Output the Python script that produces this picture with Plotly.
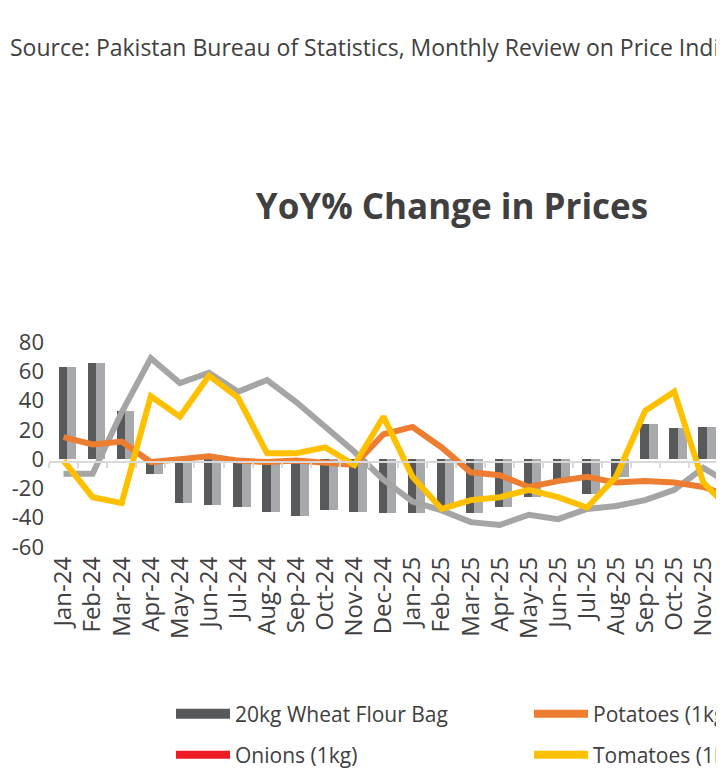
import plotly.graph_objects as go

months = ["Jan-24", "Feb-24", "Mar-24", "Apr-24", "May-24", "Jun-24", "Jul-24", "Aug-24",
          "Sep-24", "Oct-24", "Nov-24", "Dec-24", "Jan-25", "Feb-25", "Mar-25", "Apr-25",
          "May-25", "Jun-25", "Jul-25", "Aug-25", "Sep-25", "Oct-25", "Nov-25", "Dec-25"]

wheat_flour = [63, 66, 33, -10, -30, -31, -33, -36, -39, -35, -36, -37,
               -37, -33, -37, -33, -26, -15, -24, -12, 24, 21, 22, 12]

onions = [-10, -10, 32, 69, 52, 59, 46, 54, 39, 22, 5, -14,
          -29, -35, -43, -45, -38, -41, -34, -32, -28, -21, -6, -18]

potatoes = [15, 10, 12, -2, 0, 2, -1, -2, -1, -3, -4, 17,
            22, 8, -9, -11, -19, -15, -12, -16, -15, -16, -19, -26]

tomatoes = [-1, -26, -30, 43, 29, 57, 42, 4, 4, 8, -4, 29,
            -12, -34, -28, -26, -21, -26, -33, -12, 33, 46, -16, -36]

y_ticks = [80, 60, 40, 20, 0, -20, -40, -60]
y_tick_labels = ["80", "60", "40", "20", "0", "-20", "-40", "-60"]

TEXT = "#404040"
FONT = "Open Sans"

fig = go.Figure()

# 3D-look columns: dark front face + light side face
fig.add_trace(go.Bar(x=months, y=wheat_flour, width=0.31, offset=0.12,
                     marker=dict(color="#a7a9ac", line=dict(width=0)),
                     showlegend=False, hoverinfo="skip"))
fig.add_trace(go.Bar(x=months, y=wheat_flour, width=0.29, offset=-0.17,
                     marker=dict(color="#58595b", line=dict(width=0)),
                     name="20kg Wheat Flour Bag", showlegend=False))

fig.add_trace(go.Scatter(x=months, y=onions, mode="lines", name="Onions (1kg)",
                         line=dict(color="#a5a5a5", width=6), showlegend=False))
fig.add_trace(go.Scatter(x=months, y=potatoes, mode="lines", name="Potatoes (1kg)",
                         line=dict(color="#ed7d31", width=6), showlegend=False))
fig.add_trace(go.Scatter(x=months, y=tomatoes, mode="lines", name="Tomatoes (1kg)",
                         line=dict(color="#ffc000", width=6), showlegend=False))

# legend entries
fig.add_trace(go.Scatter(x=[None], y=[None], mode="lines", name="20kg Wheat Flour Bag",
                         line=dict(color="#58595b", width=13), legend="legend"))
fig.add_trace(go.Scatter(x=[None], y=[None], mode="lines", name="Potatoes (1kg)",
                         line=dict(color="#ed7d31", width=8), legend="legend2"))
fig.add_trace(go.Scatter(x=[None], y=[None], mode="lines", name="Onions (1kg)",
                         line=dict(color="#ed1c24", width=8), legend="legend3"))
fig.add_trace(go.Scatter(x=[None], y=[None], mode="lines", name="Tomatoes (1kg)",
                         line=dict(color="#ffc000", width=8), legend="legend4"))

W, H = 905, 775
ml, mt = 41, 334
plot_w, plot_h = 698, 205
mr = W - ml - plot_w
mb = H - mt - plot_h

IW = 54
col1_text, col2_text = 227, 585
row1, row2 = 706, 747


def leg(xtext, yrow):
    return dict(orientation="h", xref="container", yref="container",
                x=(xtext - IW - 10) / W, y=1 - yrow / H,
                xanchor="left", yanchor="middle", itemwidth=IW,
                font=dict(family=FONT, size=21, color=TEXT), bgcolor="rgba(0,0,0,0)")


fig.update_layout(
    width=W, height=H,
    margin=dict(l=ml, r=mr, t=mt, b=mb, autoexpand=False),
    paper_bgcolor="white", plot_bgcolor="white",
    barmode="overlay", bargap=0,
    font=dict(family=FONT, color=TEXT),
    title=dict(text="<b>YoY% Change in Prices</b>", x=444 / W, xref="container", xanchor="center",
               y=1 - 199 / H, yref="container", yanchor="middle",
               font=dict(family=FONT, size=35, color=TEXT)),
    xaxis=dict(type="category", categoryorder="array", categoryarray=months,
               tickmode="array", tickvals=months, ticktext=months,
               range=[-0.5, len(months) - 0.5], showline=False, showgrid=False,
               ticks="", tickangle=-90, ticklabelstandoff=4, automargin=False,
               tickfont=dict(family=FONT, size=24, color=TEXT)),
    xaxis2=dict(overlaying="x", anchor="free", position=(60 - 2) / 140, side="bottom",
                range=[-0.5, len(months) - 0.5], showline=True, linecolor="#d9d9d9", linewidth=2,
                ticks="outside", ticklen=5, tickcolor="#d9d9d9", tickwidth=2, automargin=False,
                tick0=0.5, dtick=1, showticklabels=False, showgrid=False, zeroline=False),
    yaxis=dict(range=[-60, 80], tickmode="array", tickvals=y_ticks, ticktext=y_tick_labels,
               showgrid=False, zeroline=False,
               showline=False, ticks="", ticklabelstandoff=4, automargin=False,
               tickfont=dict(family=FONT, size=22, color=TEXT)),
    legend=leg(col1_text, row1),
    legend2=leg(col2_text, row1),
    legend3=leg(col1_text, row2),
    legend4=leg(col2_text, row2),
    annotations=[dict(text="Source: Pakistan Bureau of Statistics, Monthly Review on Price Indices",
                      xref="paper", yref="paper", x=(0 - ml) / plot_w,
                      y=(H - 39 - mb) / plot_h, xanchor="left", yanchor="middle",
                      showarrow=False, font=dict(family=FONT, size=23, color=TEXT))],
)

# dummy trace to activate xaxis2 (zero line with boundary ticks)
fig.add_trace(go.Scatter(x=[None], y=[None], xaxis="x2", showlegend=False, hoverinfo="skip"))

fig.write_html("out.html")
